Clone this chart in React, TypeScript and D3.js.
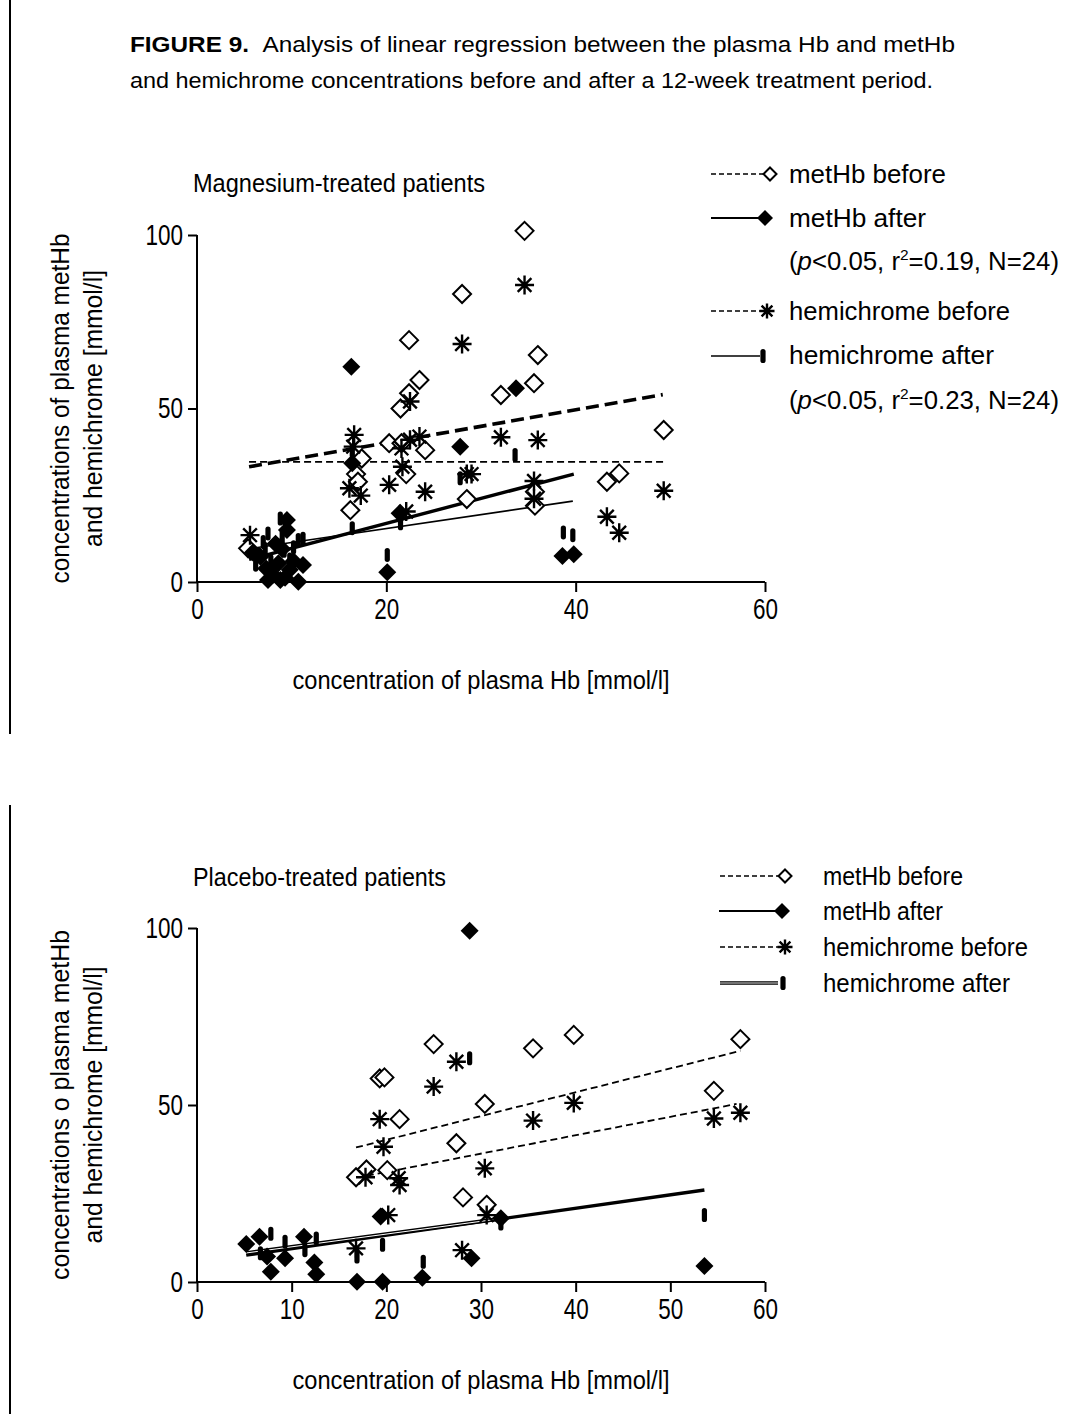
import React, { useEffect, useRef } from 'react';
import * as d3 from 'd3';

type Pt = [number, number];

// ---- axes ----
const xTicksMg = [0, 20, 40, 60];
const xTicksPl = [0, 10, 20, 30, 40, 50, 60];
const yTicks = [0, 50, 100];

// ---- Magnesium-treated patients ----
const mgMetHbBefore: Pt[] = [
  [28, 83], [22.4, 69.7], [23.5, 58.2], [22.4, 54.4], [21.5, 50], [34.6, 101.2], [36, 65.4], [35.6, 57.3],
  [32.1, 53.9], [35.7, 26], [35.7, 22], [43.3, 28.9], [44.6, 31.3], [49.3, 43.8], [17.4, 35.6], [16.8, 31.1],
  [17, 28.9], [16.2, 20.7], [20.3, 40], [21.6, 40], [24.1, 38], [22.1, 31.1], [28.5, 23.9], [5.4, 9.7],
];
const mgMetHbAfter: Pt[] = [
  [16.3, 62], [33.7, 55.8], [16.4, 34.2], [27.8, 39], [21.4, 19.8], [20.1, 2.8], [38.6, 7.5], [39.8, 8],
  [5.9, 8.5], [6.7, 7.3], [7.3, 3.9], [7.5, 0.6], [8.0, 2.0], [8.6, 5.4], [8.8, 0.6], [9.0, 9.5],
  [9.5, 15], [9.5, 17.9], [9.8, 3.5], [10.2, 6.0], [10.7, 0.1], [11.2, 4.9], [8.3, 11.0], [9.3, 1.2],
];
const mgHemiBefore: Pt[] = [
  [28, 68.6], [22.5, 52], [34.6, 85.6], [32.1, 41.7], [36, 40.9], [29, 31.1], [35.6, 29.1], [35.6, 24],
  [49.3, 26.3], [43.3, 18.8], [44.6, 14.2], [16.6, 42.4], [16.1, 27], [17.3, 24.9], [20.3, 28], [21.6, 38.5],
  [22.5, 41], [23.5, 41.9], [21.7, 33.2], [24.1, 26], [28.5, 31.1], [22.1, 20.3], [5.6, 13.5], [16.5, 39],
];
const mgHemiAfter: Pt[] = [
  [33.6, 36.6], [16.4, 37.8], [27.8, 29.9], [21.5, 16.9], [16.4, 15.5], [20.1, 7.8], [38.7, 14.3], [39.7, 13.5],
  [7.0, 11.5], [7.5, 14], [8.5, 10.7], [8.8, 18.3], [9.5, 17.5], [10.7, 12.1], [11.2, 12.5], [6.5, 8],
  [7.8, 6], [8.2, 3], [9.2, 9], [9.8, 6.5], [10.2, 10], [6.2, 5], [9, 13], [7.2, 9.5],
];
// regression lines, end points
const mgFitMetHbBefore: Pt[] = [[5.5, 33.2], [49.2, 54]];
const mgFitHemiBefore: Pt[] = [[5.5, 34.6], [49.3, 34.6]];
const mgFitMetHbAfter: Pt[] = [[5.5, 6.5], [39.8, 31.1]];
const mgFitHemiAfter: Pt[] = [[5.5, 9.6], [39.7, 23.3]];

// ---- Placebo-treated patients ----
const plMetHbBefore: Pt[] = [
  [25, 67.2], [19.3, 57.5], [19.8, 57.8], [35.5, 66], [39.8, 69.8], [57.4, 68.6], [54.6, 54], [30.4, 50.3],
  [21.4, 46], [27.4, 39.2], [16.8, 29.6], [17.9, 31.8], [20.1, 31.6], [28.1, 23.9], [30.6, 21.8],
];
const plMetHbAfter: Pt[] = [
  [28.8, 99.2], [29, 6.7], [32.1, 18], [19.4, 18.5], [53.6, 4.5], [5.2, 10.7], [6.6, 12.8], [7.4, 7.2],
  [7.8, 2.9], [9.3, 6.7], [11.3, 12.8], [12.4, 5.5], [12.6, 2.2], [16.9, 0.1], [19.6, 0.1], [23.8, 1.2],
];
const plHemiBefore: Pt[] = [
  [27.4, 62.2], [25, 55.2], [39.8, 50.6], [35.5, 45.6], [54.6, 46.2], [57.4, 47.8], [30.4, 32.1], [30.6, 18.9],
  [19.3, 46], [19.7, 38.2], [17.8, 29.6], [21.3, 29.3], [21.4, 27.4], [20.2, 18.9], [16.8, 9.5], [28, 9],
];
const plHemiAfter: Pt[] = [
  [28.8, 63.2], [32.1, 16.5], [53.6, 18.9], [7.8, 13.6], [9.3, 11.4], [6.7, 8.1], [11.4, 9], [12.6, 12.3],
  [16.9, 7.2], [19.6, 10.5], [23.9, 5.7],
];
const plFitMetHbBefore: Pt[] = [[16.8, 38], [57.4, 65.3]];
const plFitHemiBefore: Pt[] = [[16.8, 29.4], [57, 50.3]];
const plFitMetHbAfter: Pt[] = [[5.2, 7.6], [53.6, 26]];
const plFitHemiAfter: Pt[] = [[5.2, 8.2], [32.1, 17.9]];

const FONT = "'Liberation Sans Narrow', 'Arial Narrow', 'Liberation Sans', Arial, sans-serif";
const FONT_W = "'Liberation Sans', Arial, sans-serif";

type G = d3.Selection<SVGGElement, unknown, null, undefined>;

const openDiamond = (g: G, x: number, y: number, r: number) =>
  g.append('path')
    .attr('d', `M${x},${y - r}L${x + r},${y}L${x},${y + r}L${x - r},${y}Z`)
    .attr('fill', 'white').attr('stroke', 'black').attr('stroke-width', 2);

const filledDiamond = (g: G, x: number, y: number, r: number) =>
  g.append('path')
    .attr('d', `M${x},${y - r}L${x + r},${y}L${x},${y + r}L${x - r},${y}Z`)
    .attr('fill', 'black');

const asterisk = (g: G, x: number, y: number, r: number) => {
  const d = r * 0.72;
  g.append('path')
    .attr('d', `M${x - r},${y}H${x + r}M${x},${y - r}V${y + r}M${x - d},${y - d}L${x + d},${y + d}M${x - d},${y + d}L${x + d},${y - d}`)
    .attr('stroke', 'black').attr('stroke-width', 2.4).attr('fill', 'none');
};

const bar = (g: G, x: number, y: number, h: number) =>
  g.append('rect')
    .attr('x', x - 2.6).attr('y', y - h / 2).attr('width', 5.2).attr('height', h)
    .attr('rx', 2.6).attr('fill', 'black');

const label = (g: G, x: number, y: number, s: string, size: number, len?: number, anchor = 'start') => {
  const t = g.append('text')
    .attr('x', x).attr('y', y)
    .attr('font-family', FONT).attr('font-size', size)
    .attr('text-anchor', anchor).attr('fill', 'black')
    .text(s);
  if (len) t.attr('textLength', len).attr('lengthAdjust', 'spacingAndGlyphs');
  return t;
};

interface Panel {
  yTop: number; yBottom: number;
  xTicks: number[];
  title: string; titleY: number; titleLen: number;
  yTitle1: string; yTitle2: string;
  xTitleY: number;
  metHbBefore: Pt[]; metHbAfter: Pt[]; hemiBefore: Pt[]; hemiAfter: Pt[];
  fitMetHbBefore: Pt[]; fitHemiBefore: Pt[]; fitMetHbAfter: Pt[]; fitHemiAfter: Pt[];
  thickDash: boolean; doubleHemi: boolean;
}

const drawPanel = (svg: G, p: Panel) => {
  const x = d3.scaleLinear().domain([0, 60]).range([197, 765]);
  const y = d3.scaleLinear().domain([0, 100]).range([p.yBottom, p.yTop]);
  const g = svg.append('g');

  // axes
  const xa = g.append('g').attr('transform', `translate(0,${p.yBottom})`)
    .call(d3.axisBottom(x).tickValues(p.xTicks).tickSize(10).tickPadding(6).tickFormat(d3.format('d')));
  const ya = g.append('g').attr('transform', 'translate(197,0)')
    .call(d3.axisLeft(y).tickValues(yTicks).tickSize(9).tickPadding(5).tickFormat(d3.format('d')));
  [xa, ya].forEach(a => {
    a.selectAll('line').attr('stroke-width', 2);
    a.selectAll<SVGTextElement, number>('text')
      .attr('font-family', FONT).attr('font-size', 29).attr('fill', 'black')
      .attr('textLength', d => String(d).length * 12.5).attr('lengthAdjust', 'spacingAndGlyphs');
    a.select('.domain').attr('stroke-width', 2);
  });
  xa.select('.domain').attr('d', `M${x(0)},0H${x(60)}`);
  ya.select('.domain').attr('d', `M0,${y(0)}V${y(100)}`);
  xa.selectAll('text').attr('dy', '0.72em');

  const line = d3.line<Pt>().x(d => x(d[0])).y(d => y(d[1]));

  // regression lines
  g.append('path').attr('d', line(p.fitMetHbBefore)).attr('fill', 'none').attr('stroke', 'black')
    .attr('stroke-width', p.thickDash ? 3.6 : 1.8).attr('stroke-dasharray', p.thickDash ? '13,6' : '7,4');
  g.append('path').attr('d', line(p.fitHemiBefore)).attr('fill', 'none').attr('stroke', 'black')
    .attr('stroke-width', 1.8).attr('stroke-dasharray', '7,4');
  g.append('path').attr('d', line(p.fitMetHbAfter)).attr('fill', 'none').attr('stroke', 'black')
    .attr('stroke-width', 3.4);
  if (p.doubleHemi) {
    g.append('path').attr('d', line(p.fitHemiAfter)).attr('fill', 'none').attr('stroke', 'black').attr('stroke-width', 3.6);
    g.append('path').attr('d', line(p.fitHemiAfter)).attr('fill', 'none').attr('stroke', 'white').attr('stroke-width', 1);
  } else {
    g.append('path').attr('d', line(p.fitHemiAfter)).attr('fill', 'none').attr('stroke', 'black').attr('stroke-width', 1.6);
  }

  // points
  p.hemiAfter.forEach(d => bar(g, x(d[0]), y(d[1]), 14));
  p.metHbBefore.forEach(d => openDiamond(g, x(d[0]), y(d[1]), 9));
  p.hemiBefore.forEach(d => asterisk(g, x(d[0]), y(d[1]), 9.5));
  p.metHbAfter.forEach(d => filledDiamond(g, x(d[0]), y(d[1]), 9));

  // titles
  label(g, 193, p.titleY, p.title, 25, p.titleLen);
  const cy = (p.yTop + p.yBottom) / 2;
  label(g, 0, 0, p.yTitle1, 25, 350, 'middle').attr('transform', `translate(69,${cy}) rotate(-90)`);
  label(g, 0, 0, p.yTitle2, 25, 277, 'middle').attr('transform', `translate(102,${cy}) rotate(-90)`);
  label(g, 481, p.xTitleY, 'concentration of plasma Hb [mmol/l]', 25, 377, 'middle');
};

export default function App() {
  const ref = useRef<SVGSVGElement>(null);

  useEffect(() => {
    document.body.style.margin = '0';
    const svg = d3.select(ref.current as SVGSVGElement);
    svg.selectAll('*').remove();
    const root = svg.append('g') as unknown as G;

    // frame lines on the left
    root.append('line').attr('x1', 10).attr('x2', 10).attr('y1', 0).attr('y2', 734).attr('stroke', 'black').attr('stroke-width', 2);
    root.append('line').attr('x1', 10).attr('x2', 10).attr('y1', 805).attr('y2', 1414).attr('stroke', 'black').attr('stroke-width', 2);

    // figure caption
    const cap = root.append('text').attr('x', 130).attr('y', 52).attr('font-family', FONT_W).attr('font-size', 22)
      .attr('textLength', 825).attr('lengthAdjust', 'spacingAndGlyphs');
    cap.append('tspan').attr('font-weight', 'bold').text('FIGURE 9.');
    cap.append('tspan').text('\u00a0\u00a0Analysis of linear regression between the plasma Hb and metHb');
    root.append('text').attr('x', 130).attr('y', 88).attr('font-family', FONT_W).attr('font-size', 22)
      .attr('textLength', 803).attr('lengthAdjust', 'spacingAndGlyphs')
      .text('and hemichrome concentrations before and after a 12-week treatment period.');

    drawPanel(root, {
      yTop: 235, yBottom: 582, xTicks: xTicksMg,
      title: 'Magnesium-treated patients', titleY: 192, titleLen: 292,
      yTitle1: 'concentrations of plasma metHb', yTitle2: 'and hemichrome [mmol/l]', xTitleY: 689,
      metHbBefore: mgMetHbBefore, metHbAfter: mgMetHbAfter, hemiBefore: mgHemiBefore, hemiAfter: mgHemiAfter,
      fitMetHbBefore: mgFitMetHbBefore, fitHemiBefore: mgFitHemiBefore, fitMetHbAfter: mgFitMetHbAfter, fitHemiAfter: mgFitHemiAfter,
      thickDash: true, doubleHemi: false,
    });
    drawPanel(root, {
      yTop: 928, yBottom: 1282, xTicks: xTicksPl,
      title: 'Placebo-treated patients', titleY: 886, titleLen: 253,
      yTitle1: 'concentrations o plasma metHb', yTitle2: 'and hemichrome [mmol/l]', xTitleY: 1389,
      metHbBefore: plMetHbBefore, metHbAfter: plMetHbAfter, hemiBefore: plHemiBefore, hemiAfter: plHemiAfter,
      fitMetHbBefore: plFitMetHbBefore, fitHemiBefore: plFitHemiBefore, fitMetHbAfter: plFitMetHbAfter, fitHemiAfter: plFitHemiAfter,
      thickDash: false, doubleHemi: true,
    });

    // legend, magnesium panel
    const lg = root.append('g');
    const dash = (g: G, x1: number, x2: number, yy: number) =>
      g.append('line').attr('x1', x1).attr('x2', x2).attr('y1', yy).attr('y2', yy).attr('stroke', 'black')
        .attr('stroke-width', 1.5).attr('stroke-dasharray', '5,3');
    const solid = (g: G, x1: number, x2: number, yy: number, w = 2) =>
      g.append('line').attr('x1', x1).attr('x2', x2).attr('y1', yy).attr('y2', yy).attr('stroke', 'black').attr('stroke-width', w);

    dash(lg, 711, 764, 174); openDiamond(lg, 770, 174, 6.5);
    solid(lg, 711, 760, 218); filledDiamond(lg, 765, 218, 8);
    dash(lg, 711, 760, 311); asterisk(lg, 767, 311, 7.5);
    solid(lg, 711, 760, 356, 1.6); bar(lg, 763, 356, 14);
    label(lg, 789, 183, 'metHb before', 25, 157);
    label(lg, 789, 227, 'metHb after', 25, 137);
    label(lg, 789, 320, 'hemichrome before', 25, 221);
    label(lg, 789, 364, 'hemichrome after', 25, 205);
    const stat = (yy: number, r2: string) => {
      const t = label(lg, 789, yy, '', 25, 270);
      t.append('tspan').text('(');
      t.append('tspan').attr('font-style', 'italic').text('p');
      t.append('tspan').text('<0.05, r');
      t.append('tspan').attr('font-size', 15).attr('dy', -10).text('2');
      t.append('tspan').attr('dy', 10).text(`=${r2}, N=24)`);
    };
    stat(270, '0.19');
    stat(409, '0.23');

    // legend, placebo panel
    dash(lg, 720, 780, 876); openDiamond(lg, 785, 876, 6.5);
    solid(lg, 719, 775, 911); filledDiamond(lg, 782, 911, 8);
    dash(lg, 720, 778, 947); asterisk(lg, 785, 947, 7.5);
    solid(lg, 720, 778, 983, 3.4); lg.append('line').attr('x1', 720).attr('x2', 778).attr('y1', 983).attr('y2', 983).attr('stroke', 'white').attr('stroke-width', 0.9);
    bar(lg, 783, 983, 14);
    label(lg, 823, 885, 'metHb before', 25, 140);
    label(lg, 823, 920, 'metHb after', 25, 120);
    label(lg, 823, 956, 'hemichrome before', 25, 205);
    label(lg, 823, 992, 'hemichrome after', 25, 187);
  }, []);

  return <svg ref={ref} width={1071} height={1414} style={{ display: 'block', background: 'white' }} />;
}
